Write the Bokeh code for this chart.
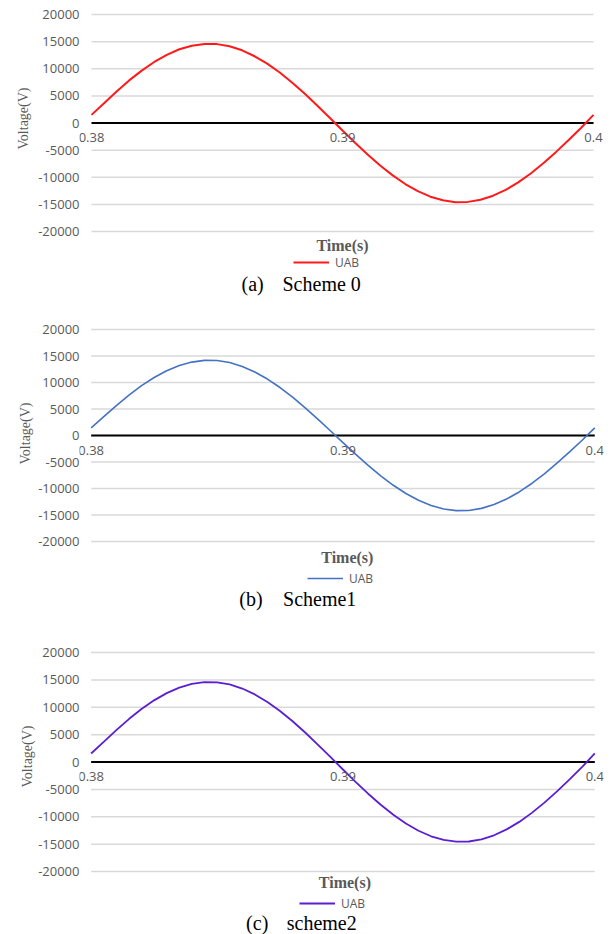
from bokeh.plotting import figure
from bokeh.models import FixedTicker, Label, Legend, LegendItem, Range1d, ColumnDataSource, Title
from bokeh.layouts import column
from bokeh.embed import file_html
from bokeh.resources import INLINE

# ---------------- data ----------------
time_s = [0.38, 0.3805, 0.381, 0.3815, 0.382, 0.3825, 0.383, 0.3835, 0.384, 0.3845,
          0.385, 0.3855, 0.386, 0.3865, 0.387, 0.3875, 0.388, 0.3885, 0.389, 0.3895,
          0.39, 0.3905, 0.391, 0.3915, 0.392, 0.3925, 0.393, 0.3935, 0.394, 0.3945,
          0.395, 0.3955, 0.396, 0.3965, 0.397, 0.3975, 0.398, 0.3985, 0.399, 0.3995, 0.4]

uab_scheme0 = [1500, 3650, 5800, 7850, 9650, 11250, 12550, 13600, 14250, 14580,
               14540, 14150, 13400, 12300, 10950, 9300, 7430, 5380, 3180, 920,
               -1380, -3640, -5800, -7820, -9650, -11250, -12560, -13580, -14250, -14600,
               -14540, -14140, -13400, -12330, -10950, -9300, -7430, -5370, -3180, -920, 1500]

uab_scheme1 = [1450, 3550, 5650, 7600, 9400, 10950, 12220, 13200, 13850, 14170,
               14140, 13760, 13030, 11990, 10650, 9050, 7230, 5230, 3100, 890,
               -1340, -3530, -5640, -7610, -9390, -10940, -12220, -13200, -13860, -14180,
               -14140, -13750, -13030, -11990, -10650, -9050, -7230, -5230, -3100, -890, 1450]

uab_scheme2 = [1550, 3680, 5820, 7840, 9680, 11260, 12580, 13590, 14260, 14590,
               14560, 14160, 13420, 12340, 10960, 9320, 7440, 5390, 3190, 930,
               -1370, -3620, -5790, -7810, -9640, -11240, -12550, -13570, -14240, -14560,
               -14520, -14130, -13390, -12310, -10940, -9290, -7420, -5360, -3170, -910, 1560]

y_ticks = [-20000, -15000, -10000, -5000, 0, 5000, 10000, 15000, 20000]
y_tick_labels = ["-20000", "-15000", "-10000", "-5000", "0", "5000", "10000", "15000", "20000"]
x_ticks = [0.38, 0.39, 0.4]
x_tick_labels = ["0.38", "0.39", "0.4"]

series_label = "UAB"
x_title = "Time(s)"
y_title = "Voltage(V)"
caption_tags = ["(a)", "(b)", "(c)"]
caption_names = ["Scheme 0", "Scheme1", "scheme2"]

GRAY = "#595959"
GRID = "#d9d9d9"
SANS = "Open Sans"
SERIF = "Liberation Serif"
W = 614


def make_panel(values, color, lw, tag, name, H, T, B, X0, X1, FL, FR,
               ylab_offset, ylab_standoff, time_c, leg_x, leg_cy, tag_left, name_left, cap_cy):
    # pixel layout -> data ranges (frame covers plot area and the texts beneath it)
    pad_top = 3
    sx = (X1 - X0) / (x_ticks[-1] - x_ticks[0])
    sy = (B - T) / (y_ticks[-1] - y_ticks[0])
    top_border = T - pad_top
    xr0 = x_ticks[0] - (X0 - FL) / sx
    xr1 = x_ticks[-1] + (FR - X1) / sx
    ytop = y_ticks[-1] + pad_top / sy
    ybot = ytop - (H - top_border) / sy

    def px_x(px):
        return xr0 + (px - FL) / sx

    def px_y(py):
        return ytop - (py - top_border) / sy

    p = figure(width=W, height=H, output_backend="svg", toolbar_location=None,
               x_range=Range1d(xr0, xr1), y_range=Range1d(ybot, ytop),
               min_border_left=FL, min_border_right=W - FR, min_border_top=top_border,
               min_border_bottom=0)
    p.outline_line_color = None
    p.background_fill_color = "white"
    p.border_fill_color = "white"
    p.xgrid.visible = False
    p.ygrid.visible = False

    # horizontal gridlines and zero line across the plot area
    n = len(y_ticks)
    p.segment(x0=[x_ticks[0]] * n, x1=[x_ticks[-1]] * n, y0=y_ticks, y1=y_ticks,
              line_color=GRID, line_width=1.5)
    p.segment(x0=[x_ticks[0]], x1=[x_ticks[-1]], y0=[0], y1=[0],
              line_color="black", line_width=2)

    src = ColumnDataSource(dict(t=time_s, v=values))
    r = p.line("t", "v", source=src, line_color=color, line_width=lw)

    # y axis (tick labels only)
    yax = p.yaxis[0]
    yax.ticker = FixedTicker(ticks=y_ticks)
    yax.major_label_overrides = {t: s for t, s in zip(y_ticks, y_tick_labels)}
    yax.axis_line_color = None
    yax.major_tick_line_color = None
    yax.minor_tick_line_color = None
    yax.major_tick_out = 0
    yax.major_tick_in = 0
    yax.major_label_standoff = 0
    yax.major_label_text_font = SANS
    yax.major_label_text_font_size = "13px"
    yax.major_label_text_color = GRAY

    ytitle = Title(text=y_title, align="right", offset=ylab_offset, standoff=ylab_standoff,
                   text_font=SERIF, text_font_size="14px", text_font_style="normal",
                   text_color=GRAY)
    p.add_layout(ytitle, "left")

    # x axis labels just under the zero line
    xax = p.xaxis[0]
    xax.fixed_location = 0
    xax.ticker = FixedTicker(ticks=x_ticks)
    xax.major_label_overrides = {t: s for t, s in zip(x_ticks, x_tick_labels)}
    xax.axis_line_color = None
    xax.major_tick_line_color = None
    xax.minor_tick_line_color = None
    xax.major_tick_out = 0
    xax.major_tick_in = 0
    xax.major_label_standoff = 10
    xax.major_label_text_font = SANS
    xax.major_label_text_font_size = "13px"
    xax.major_label_text_color = GRAY

    p.add_layout(Label(x=px_x(time_c[0]), y=px_y(time_c[1]), text=x_title,
                       text_align="center", text_baseline="middle",
                       text_font=SERIF, text_font_size="16px", text_font_style="bold",
                       text_color=GRAY))

    legend = Legend(items=[LegendItem(label=series_label, renderers=[r])],
                    location=(leg_x - FL, H - leg_cy - 10), orientation="horizontal",
                    glyph_width=36, glyph_height=20, label_height=20, label_standoff=6,
                    padding=0, spacing=0, margin=0, border_line_color=None,
                    background_fill_alpha=0,
                    label_text_font=SANS, label_text_font_size="12px", label_text_color=GRAY)
    p.add_layout(legend)

    for txt, left in ((tag, tag_left), (name, name_left)):
        p.add_layout(Label(x=px_x(left), y=px_y(cap_cy), text=txt,
                           text_align="left", text_baseline="middle",
                           text_font=SERIF, text_font_size="20px", text_color="black"))
    return p


pa = make_panel(uab_scheme0, "#ff1a1a", 2, caption_tags[0], caption_names[0],
                300, 14, 231, 91, 593, 79, 603,
                76, 10, (342, 245), 293, 262, 241, 282, 283)
pb = make_panel(uab_scheme1, "#4472c4", 1.6, caption_tags[1], caption_names[1],
                320, 29, 241, 88, 605, 76, 614,
                76, 6, (351, 257), 304, 278, 240, 285, 298)
pc = make_panel(uab_scheme2, "#5b1fd2", 1.8, caption_tags[2], caption_names[2],
                314, 32, 251, 85, 605, 73, 614,
                76, 2, (347, 262), 293, 283, 245, 287, 302)

layout = column(pa, pb, pc, spacing=0)
open("out.html", "w").write(file_html(layout, INLINE))
